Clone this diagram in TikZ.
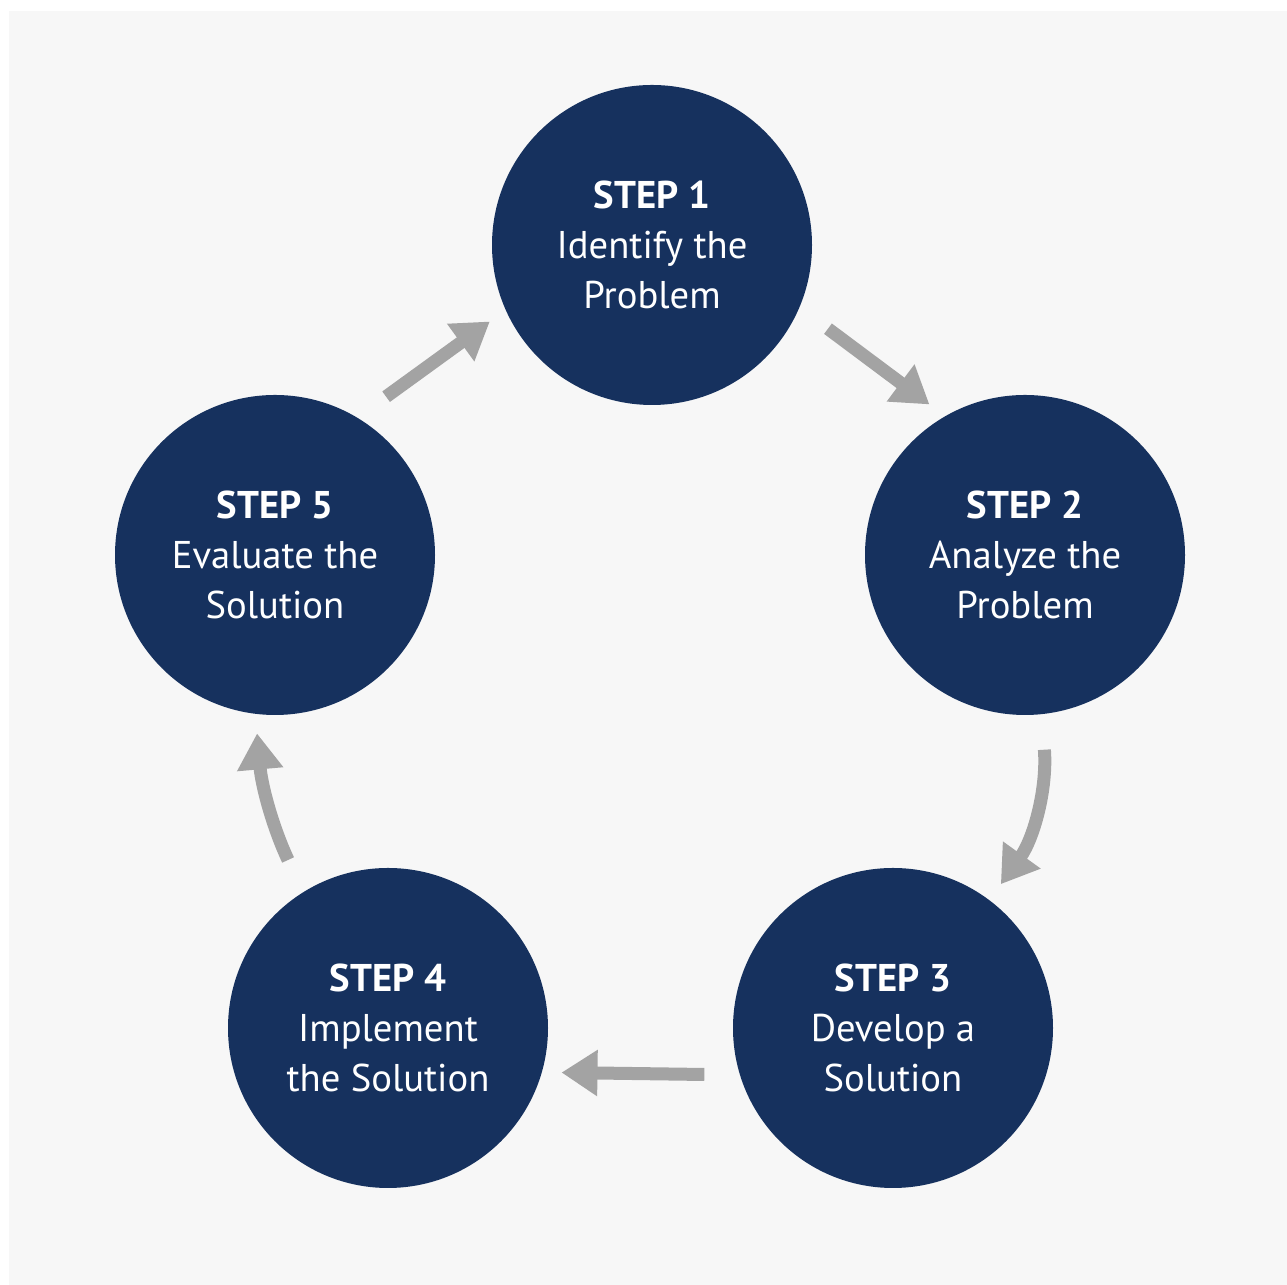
\documentclass[tikz,border=0pt]{standalone}
\usepackage{fontspec}
\setmainfont{PT Sans}
\usetikzlibrary{arrows.meta}
\definecolor{stepblue}{RGB}{22,49,94}
\definecolor{flowgray}{RGB}{163,163,163}
\definecolor{panelgray}{RGB}{247,247,247}
\tikzset{
stepnode/.style={circle,fill=stepblue,minimum size=3.2cm,inner sep=0pt,text=white,align=center,font=\fontsize{11}{14.2}\selectfont},
flow/.style={draw=flowgray,line width=0.13cm,-{Triangle[length=0.36cm,width=0.44cm]},shorten <=0.35cm,shorten >=0.19cm}
}
\begin{document}
\begin{tikzpicture}
\useasboundingbox(0,0)rectangle(12.87,12.85);
\fill[white](0,0)rectangle(12.87,12.85);
\fill[panelgray](0.09,0)rectangle(12.87,12.74);
\node[stepnode](s1)at(6.52,10.40){\textbf{STEP 1}\\Identify the\\Problem};
\node[stepnode](s2)at(10.25,7.30){\textbf{STEP 2}\\Analyze the\\Problem};
\node[stepnode](s3)at(8.93,2.57){\textbf{STEP 3}\\Develop a\\Solution};
\node[stepnode](s4)at(3.88,2.57){\textbf{STEP 4}\\Implement\\the Solution};
\node[stepnode](s5)at(2.75,7.30){\textbf{STEP 5}\\Evaluate the\\Solution};
\draw[flow](s1.-23)--(s2.120);
\draw[flow](s2.-84)to[bend left=20](s3.53);
\draw[flow](s3.-163)--(s4.-16);
\draw[flow](s4.122)to[bend left=10](s5.-97);
\draw[flow](s5.59)--(s1.-156);
\end{tikzpicture}
\end{document}
